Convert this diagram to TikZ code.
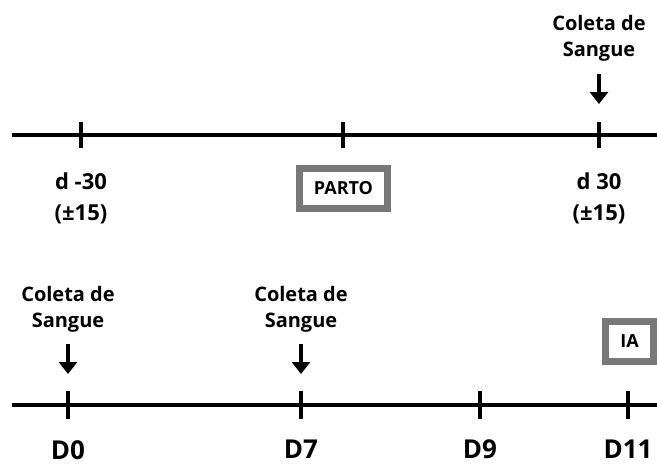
\documentclass[tikz,border=0pt]{standalone}
\usepackage{fontspec}
\setmainfont{Open Sans}
\usetikzlibrary{arrows.meta,positioning}
\definecolor{TlGray}{RGB}{120,120,120}
\tikzset{
  tl/axis/.style={line width=3.5pt, draw=black},
  tl/tick/.style={line width=4pt, draw=black},
  tl/note/.style={
    font=\fontsize{20}{26}\selectfont\bfseries,
    align=center,
    inner sep=0pt
  },
  tl/day/.style={
    font=\fontsize{22}{31}\selectfont\bfseries,
    align=center,
    inner sep=0pt
  },
  tl/dd/.style={font=\fontsize{26}{30}\selectfont\bfseries, inner sep=0pt},
  tl/frame/.style={
    draw=TlGray,
    line width=7pt,
    fill=white,
    font=\fontsize{18}{22}\selectfont\bfseries,
    inner sep=0pt
  },
  tl/arrow/.style={-{Triangle[length=12pt,width=18pt]}, line width=3.5pt,
    shorten <=12pt, shorten >=31pt}
}

\begin{document}
\begin{tikzpicture}[x=1pt,y=-1pt]
  \useasboundingbox (0,0) rectangle (657,464);

  % upper timeline
  \coordinate (upL) at (12,135);
  \coordinate (upR) at (660,135);
  \draw[tl/axis] (upL) -- (upR);
  \foreach \x/\n in {81/a,343/b,599/c}{
    \coordinate (up\n) at (\x,135);
    \draw[tl/tick] ([yshift=-13pt]up\n) -- ([yshift=13pt]up\n);
  }
  \node[tl/day, below=38pt of upa] (dminus) {d -30\\(±15)};
  \node[tl/day, below=38pt of upc] (dplus) {d 30\\(±15)};
  \node[tl/frame, minimum width=88pt, minimum height=40pt] (parto) at (343.5,188.5) {PARTO};
  \node[tl/note, above=73pt of upc] (colC) {Coleta de\\Sangue};
  \draw[tl/arrow] (colC) -- (upc);

  % lower timeline
  \coordinate (loL) at (12,405);
  \coordinate (loR) at (660,405);
  \draw[tl/axis] (loL) -- (loR);
  \foreach \x/\n in {68/a,301/b,480/c,628/d}{
    \coordinate (lo\n) at (\x,405);
    \draw[tl/tick] ([yshift=-14pt]lo\n) -- ([yshift=14pt]lo\n);
  }
  \node[tl/dd, below=35pt of loa] (d0) {D0};
  \node[tl/dd, below=35pt of lob] (d7) {D7};
  \node[tl/dd, below=35pt of loc] (d9) {D9};
  \node[tl/dd, below=35pt of lod] (d11) {D11};
  \node[tl/note, above=73pt of loa] (colA) {Coleta de\\Sangue};
  \node[tl/note, above=73pt of lob] (colB) {Coleta de\\Sangue};
  \draw[tl/arrow] (colA) -- (loa);
  \draw[tl/arrow] (colB) -- (lob);
  \node[tl/frame, minimum width=48pt, minimum height=40pt] (ia) at (629.5,341.5) {IA};
\end{tikzpicture}
\end{document}
